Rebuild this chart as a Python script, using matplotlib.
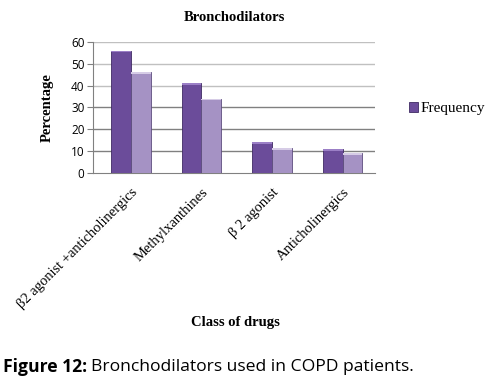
import matplotlib
matplotlib.use('Agg')
import matplotlib.pyplot as plt
import numpy as np

# data
categories = ['β2 agonist +anticholinergics', 'Methylxanthines', 'β 2 agonist', 'Anticholinergics']
frequency = [56, 41, 14, 11]
second = [46, 34, 11.5, 9]
yticks = [0, 10, 20, 30, 40, 50, 60]

C_DARK = '#6b4c9a'
C_LIGHT = '#a592c4'
SERIF = 'Liberation Serif'

fig = plt.figure(figsize=(4.91, 3.92), dpi=100)
ax = fig.add_axes([0.189, 0.559, 0.575, 0.334])

x = np.arange(len(categories)) + 0.04
w = 0.28
ax.bar(x - w / 2, frequency, width=w, color=C_DARK, edgecolor='#3f2a63', lw=0.6,
       label='Frequency', zorder=3)
ax.bar(x + w / 2, second, width=w, color=C_LIGHT, edgecolor='#5e4d7e', lw=0.6, zorder=3)
# light top caps for the 3D look
ax.bar(x - w / 2, [0.8] * 4, bottom=np.array(frequency) - 0.8, width=w,
       color='#9b7fc6', lw=0, zorder=4)
ax.bar(x + w / 2, [0.8] * 4, bottom=np.array(second) - 0.8, width=w,
       color='#d6cce6', lw=0, zorder=4)

# gridlines: upper ones lighter
for t in yticks[1:]:
    ax.axhline(t, color='#c0c0c0' if t >= 40 else '#808080', lw=1.0, zorder=1)

ax.set_xlim(-0.5, 3.5)
ax.set_ylim(0, 60)
ax.set_yticks(yticks)
ax.tick_params(axis='y', labelsize=8.5, length=4, color='#808080', pad=2)
for lab in ax.get_yticklabels():
    lab.set_family('Open Sans')
ax.set_xticks(x)
ax.set_xticklabels(categories, rotation=45, ha='right', rotation_mode='anchor',
                   family=SERIF, fontsize=10.5)
ax.tick_params(axis='x', length=0, pad=9)
for s in ['top', 'right']:
    ax.spines[s].set_visible(False)
ax.spines['left'].set_color('#808080')
ax.spines['bottom'].set_color('#808080')

ax.set_title('Bronchodilators', family=SERIF, fontweight='bold', fontsize=10.5, pad=15)
ax.set_ylabel('Percentage', family=SERIF, fontweight='bold', fontsize=10.5, labelpad=12)
fig.text(0.48, 0.178, 'Class of drugs', family=SERIF, fontweight='bold', fontsize=10.5,
         ha='center', va='center')

ax.legend(loc='center left', bbox_to_anchor=(1.07, 0.49), frameon=False,
          prop={'family': SERIF, 'size': 11}, handlelength=0.6, handleheight=0.6,
          handletextpad=0.2)

# caption
t1 = fig.text(0.006, 0.064, 'Figure 12:', family='Open Sans', fontweight='bold',
              fontsize=12.6, va='center')
fig.canvas.draw()
bb = t1.get_window_extent().transformed(fig.transFigure.inverted())
fig.text(bb.x1 + 0.009, 0.064, 'Bronchodilators used in COPD patients.', family='Open Sans',
         fontsize=12.6, va='center')

fig.savefig('out.png', dpi=100)
